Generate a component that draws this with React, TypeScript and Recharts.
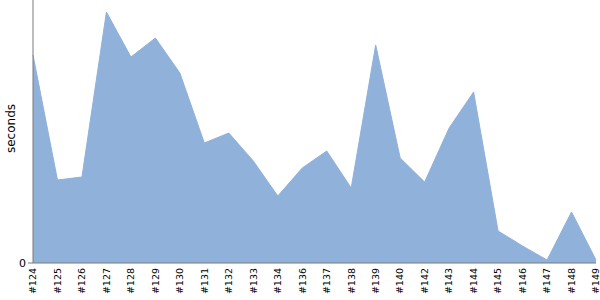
import { AreaChart, Area, XAxis, YAxis } from 'recharts'

const builds = [
  '#124', '#125', '#126', '#127', '#128', '#129', '#130', '#131', '#132', '#133', '#134', '#136',
  '#137', '#138', '#139', '#140', '#142', '#143', '#144', '#145', '#146', '#147', '#148', '#149',
]
const seconds = [
  208, 83, 86, 251, 206, 225, 190, 120, 130, 102, 67, 95,
  112, 75, 218, 105, 81, 135, 171, 32, 17, 3, 51, 3,
]
const yTicks = [0]

const data = builds.map((build, i) => ({ build, seconds: seconds[i] }))

const FONT = '"DejaVu Sans", Verdana, sans-serif'
const AXIS = '#7a7a7a'
const FILL = '#8fb1da'

function BuildTick(props: any) {
  const { x, y, payload } = props
  return (
    <text
      x={x}
      y={y}
      transform={`rotate(-90, ${x}, ${y})`}
      textAnchor="end"
      dy="0.35em"
      fontSize={9.5}
      fontFamily={FONT}
      fill="#000"
    >
      {payload.value}
    </text>
  )
}

export default function App() {
  return (
    <div style={{ position: 'absolute', left: 0, top: 0, width: 600, height: 300, background: '#fff' }}>
      <AreaChart width={600} height={300} data={data} margin={{ top: 0, right: 4, bottom: 0, left: 0 }}>
        <XAxis
          dataKey="build"
          height={37}
          interval={0}
          tick={<BuildTick />}
          tickLine={false}
          tickSize={3}
          tickMargin={2}
          axisLine={{ stroke: AXIS }}
        />
        <YAxis
          width={33}
          domain={[0, 263]}
          ticks={yTicks}
          tickSize={5}
          tickMargin={2}
          tick={{ fontSize: 11, fontFamily: FONT, fill: '#000' }}
          tickLine={{ stroke: AXIS }}
          axisLine={{ stroke: AXIS }}
          label={{
            value: 'seconds',
            angle: -90,
            position: 'center',
            dx: -6,
            dy: -3,
            style: { fontSize: 12, fontFamily: FONT, fill: '#000' },
          }}
        />
        <Area
          type="linear"
          dataKey="seconds"
          stroke={FILL}
          strokeWidth={1}
          fill={FILL}
          fillOpacity={1}
          isAnimationActive={false}
          dot={false}
          activeDot={false}
        />
      </AreaChart>
    </div>
  )
}
